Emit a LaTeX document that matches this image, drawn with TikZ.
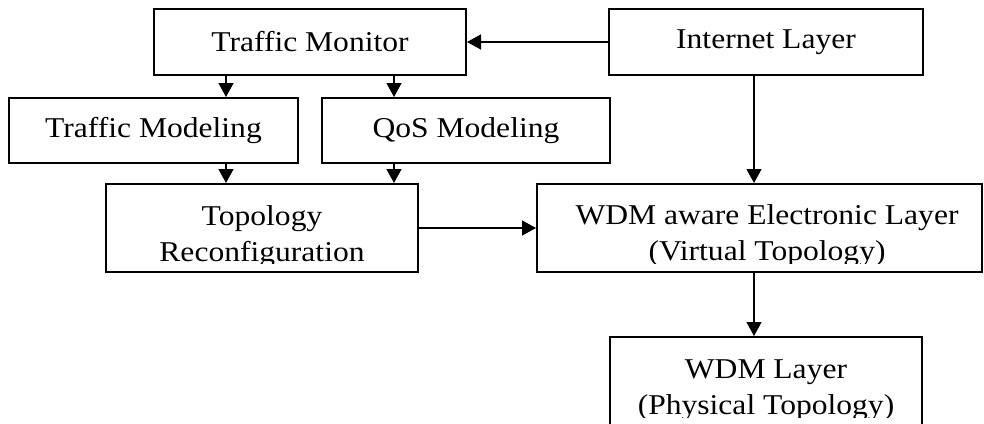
\documentclass[tikz,border=0pt]{standalone}
\usepackage{fontspec}
\setmainfont[FakeStretch=1.1]{Liberation Serif}
\usetikzlibrary{arrows.meta}
\tikzset{
	box/.style={draw,line width=2pt,inner sep=0pt},
	lbl/.style={font=\fontsize{28.7}{36}\selectfont,align=center,inner sep=0pt},
}
\begin{document}
\begin{tikzpicture}[x=1pt,y=-1pt,line width=1.3pt,>={Triangle[length=14pt,width=15pt]}]
	\useasboundingbox (0,0) rectangle (984,423);
	\clip(0,0) rectangle (984,423);
	% boxes
	\node[box,lbl,minimum width=312pt,minimum height=66pt] (tm) at (310,42) {Traffic Monitor};
	\node[box,lbl,minimum width=314pt,minimum height=66pt] (inet) at (766,42) {Internet Layer};
	\node[box,lbl,minimum width=289pt,minimum height=65pt] (tmod) at (153.5,130.5) {Traffic Modeling};
	\node[box,lbl,minimum width=288pt,minimum height=65pt] (qos) at (466,130.5) {QoS Modeling};
	\node[box,minimum width=312pt,minimum height=88pt] (topo) at (262,228) {};
	\node[box,minimum width=445pt,minimum height=88pt] (wdma) at (759.5,228) {};
	\node[box,minimum width=312pt,minimum height=100pt] (wdm) at (766,387) {};
	% two-line texts, cut at the bottom
	\begin{scope}
		\clip (topo.north west) rectangle ([yshift=10pt]topo.south east);
		\node[lbl] (topotxt) at (262,236.3) {Topology\\Reconfiguration};
	\end{scope}
	\begin{scope}
		\clip (wdma.north west) rectangle ([yshift=10pt]wdma.south east);
		\node[lbl] (wdmatxt) at (767,235.3) {WDM aware Electronic Layer\\(Virtual Topology)};
	\end{scope}
	\begin{scope}
		\clip (wdm.north west) rectangle (922,417);
		\node[lbl] (wdmtxt) at (766,389.7) {WDM Layer\\(Physical Topology)};
	\end{scope}
	% arrows
	\coordinate (tl) at ([xshift=-84pt]tm.south);
	\coordinate (tr) at ([xshift=84pt]tm.south);
	\coordinate (il) at ([xshift=-12pt]inet.south);
	\draw[->] (inet.west) -- (tm.east);
	\draw[->] (tl) -- (tl |- tmod.north);
	\draw[->] (tr) -- (tr |- qos.north);
	\draw[->] (tmod.south -| tl) -- (tl |- topo.north);
	\draw[->] (qos.south -| tr) -- (tr |- topo.north);
	\draw[->] (il) -- (il |- wdma.north);
	\draw[->] (topo.east) -- (wdma.west);
	\draw[->] (wdma.south -| il) -- (il |- wdm.north);
\end{tikzpicture}
\end{document}
